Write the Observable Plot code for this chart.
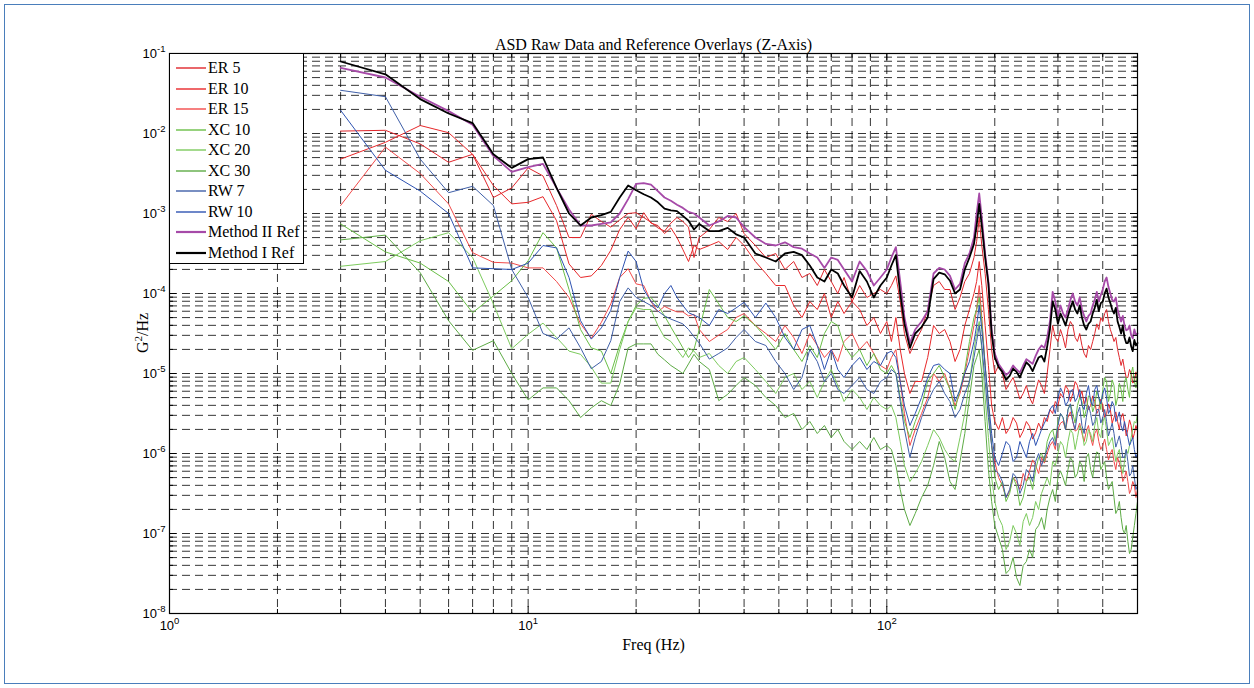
<!DOCTYPE html>
<html><head><meta charset="utf-8">
<script src="https://cdn.jsdelivr.net/npm/d3@7"></script>
<script src="https://cdn.jsdelivr.net/npm/@observablehq/plot@0.6"></script>
<style>
body{margin:0;background:#fff;}
#wrap{position:relative;width:1254px;height:688px;overflow:hidden;background:#fff;}
#chart{position:absolute;left:0;top:0;}
#frame{position:absolute;left:4px;top:4px;width:1244px;height:678px;border:1px solid #4a7ebb;pointer-events:none;}
#legend{position:absolute;left:169px;top:53px;width:135px;height:211px;background:#fff;border:1px solid #000;box-sizing:border-box;font-family:"Liberation Serif",serif;font-size:16px;color:#000;}
#legend .item{position:absolute;left:0;width:100%;height:20px;line-height:20px;white-space:nowrap;}
#legend svg{position:absolute;left:6px;top:8px;}
#legend span{position:absolute;left:38px;top:0;}
#ylab{position:absolute;left:143px;top:333px;transform:translate(-50%,-50%) rotate(-90deg);font-family:"Liberation Serif",serif;font-size:16px;white-space:nowrap;color:#000;}
#ylab sup{font-size:11px;vertical-align:0;position:relative;top:-6px;}
</style></head>
<body>
<div id="wrap"><div id="chart"></div><div id="legend"></div><div id="ylab"></div><div id="frame"></div></div>
<script>
// ---- data: log10 of ASD values (G^2/Hz) ----
const freq = [3,4,5,6,7,8,9,10,11,12,13,14,15,16,17,18,19,20,21,22,23,24,25,26,27,28,29,30,
  32,34,36,38,40, 43,46,49,52,55,58, 61,64,67,70,73,76, 80,84,88,92,96,100,
  103,106,109,112,116,120, 125,130,135,140,145,150,155,160,165,170,175,
  178,181,184,188,192,196,200,
  205,210,215,220,225,230,235,240,245,250,255,260,265,270,275,280,285,290,295,300,
  305,310,315,320,325,330,335,340,345,350,355,360,365,370,375,380,385,390,395,400,
  405,410,415,420,425,430,435,440,445,450,455,460,465,470,475,480,485,490,495,500];

const er5Log = [-1.97,-1.96,-2.13,-2.36,-2.26,-2.80,-2.68,-2.43,-2.53,-2.90,-3.30,-3.30,-3.01,-3.10,-3.17,-3.08,-3.00,-2.99,-3.05,-3.11,-3.18,-3.22,-3.12,-3.05,-3.10,-3.17,-3.55,-3.30,
  -3.20,-3.05,-3.10,-3.00,-3.25, -3.40,-3.55,-3.50,-3.70,-3.60,-3.80, -3.75,-3.90,-3.70,-3.85,-4.00,-3.80, -4.10,-3.90,-4.05,-4.00,-3.95,-4.00,
  -3.90,-3.78,-4.10,-4.50,-4.75,-4.60, -4.45,-4.20,-3.90,-3.85,-3.95,-3.95,-4.20,-4.05,-3.85,-3.75,-3.55,
  -3.35,-3.05,-3.40,-3.75,-4.20,-4.70,-5.00,
  -4.90,-5.00,-5.20,-5.12,-5.05,-5.18,-5.32,-5.25,-5.15,-5.30,-5.38,-5.22,-5.08,-5.15,-5.25,-5.00,-4.70,-4.40,-4.55,-4.60,
  -4.45,-4.55,-4.68,-4.45,-4.35,-4.40,-4.55,-4.60,-4.50,-4.65,-4.75,-4.80,-4.65,-4.70,-4.60,-4.50,-4.38,-4.45,-4.30,-4.35,
  -4.25,-4.20,-4.35,-4.45,-4.52,-4.60,-4.55,-4.70,-4.80,-4.90,-4.82,-4.95,-5.05,-5.05,-4.95,-5.00,-5.12,-5.10,-4.98,-5.05];

const er10Log = [-2.32,-2.11,-1.90,-1.99,-2.26,-2.65,-2.88,-2.86,-2.79,-3.09,-3.63,-3.80,-3.78,-3.65,-3.46,-3.20,-3.05,-3.19,-2.99,-3.12,-3.15,-3.25,-3.18,-3.30,-3.45,-3.60,-3.40,-3.45,
  -3.40,-3.35,-3.45,-3.30,-3.40, -3.60,-3.75,-3.90,-3.90,-4.15,-4.30, -4.10,-4.20,-4.00,-4.30,-4.10,-4.25, -4.10,-4.20,-4.40,-4.30,-4.50,-4.35,
  -4.60,-4.30,-4.70,-5.00,-5.25,-5.10, -5.10,-4.80,-4.40,-4.50,-4.45,-4.60,-4.85,-4.70,-4.40,-4.20,-4.00,
  -3.85,-3.60,-3.90,-4.40,-4.90,-5.40,-5.60,
  -5.70,-5.55,-5.75,-5.68,-5.55,-5.62,-5.80,-5.72,-5.60,-5.66,-5.82,-5.74,-5.62,-5.70,-5.55,-5.60,-5.45,-5.50,-5.35,-5.40,
  -5.25,-5.30,-5.15,-5.20,-5.35,-5.25,-5.10,-5.15,-5.30,-5.22,-5.38,-5.30,-5.45,-5.40,-5.28,-5.35,-5.50,-5.45,-5.32,-5.40,
  -5.55,-5.50,-5.38,-5.45,-5.62,-5.55,-5.48,-5.60,-5.70,-5.55,-5.50,-5.62,-5.78,-5.70,-5.58,-5.65,-5.82,-5.75,-5.65,-5.72];

const er15Log = [-2.90,-2.17,-2.50,-2.88,-3.49,-3.61,-3.62,-3.68,-3.68,-3.85,-4.05,-4.38,-4.56,-4.36,-4.13,-3.80,-3.69,-3.88,-3.90,-4.10,-4.23,-4.16,-4.20,-4.23,-4.23,-4.28,-4.26,-4.45,
  -4.60,-4.52,-4.45,-4.30,-4.25, -4.40,-4.50,-4.60,-4.40,-4.55,-4.75, -4.50,-4.65,-4.80,-4.70,-4.85,-4.60, -4.50,-4.70,-4.60,-4.75,-4.90,-4.95,
  -4.80,-4.70,-5.10,-5.50,-5.90,-5.70, -5.50,-5.30,-5.00,-5.10,-5.00,-5.20,-5.40,-5.25,-5.00,-4.70,-4.40,
  -4.20,-3.90,-4.30,-4.90,-5.40,-5.90,-6.10,
  -6.30,-6.40,-6.55,-6.47,-6.30,-6.35,-6.45,-6.25,-6.35,-6.22,-6.08,-6.15,-6.25,-6.05,-6.12,-6.00,-5.90,-5.85,-5.95,-5.70,
  -5.62,-5.60,-5.70,-5.55,-5.48,-5.60,-5.72,-5.70,-5.62,-5.75,-5.85,-5.72,-5.65,-5.80,-5.90,-5.75,-5.70,-5.85,-5.95,-5.90,
  -5.82,-5.95,-6.08,-6.00,-5.95,-6.10,-6.20,-6.05,-6.12,-6.20,-6.35,-6.30,-6.22,-6.35,-6.50,-6.45,-6.35,-6.40,-6.55,-6.45];

const xc10Log = [-3.13,-3.48,-3.62,-3.85,-4.24,-4.03,-3.84,-3.59,-3.24,-3.43,-3.95,-4.45,-4.68,-4.72,-5.00,-4.64,-4.35,-4.15,-4.06,-4.05,-4.15,-4.28,-4.42,-4.55,-4.68,-4.80,-4.70,-4.45,
  -3.95,-4.13,-4.30,-4.35,-4.28, -4.40,-4.55,-4.70,-4.50,-4.70,-4.85, -4.65,-4.80,-4.50,-4.35,-4.40,-4.65, -4.80,-4.70,-4.90,-4.75,-4.95,-5.00,
  -4.90,-5.00,-5.30,-5.60,-5.80,-5.60, -5.40,-5.10,-5.00,-4.90,-5.05,-5.20,-5.45,-5.20,-4.95,-4.60,-4.30,
  -4.20,-4.05,-4.35,-4.90,-5.40,-5.90,-6.30,
  -6.45,-6.35,-6.60,-6.50,-6.30,-6.40,-6.65,-6.55,-6.35,-6.30,-6.45,-6.20,-6.05,-6.00,-6.10,-5.85,-5.75,-5.70,-5.85,-5.60,
  -5.50,-5.55,-5.70,-5.45,-5.38,-5.50,-5.62,-5.40,-5.30,-5.35,-5.55,-5.45,-5.28,-5.30,-5.48,-5.40,-5.22,-5.30,-5.45,-5.20,
  -5.05,-5.10,-5.35,-5.25,-5.08,-5.15,-5.40,-5.30,-5.12,-5.20,-5.35,-5.10,-5.05,-5.20,-5.30,-5.00,-4.92,-5.10,-5.18,-4.95];

const xc20Log = [-3.66,-3.60,-3.34,-3.24,-3.55,-4.13,-4.69,-4.51,-4.37,-4.55,-4.72,-4.76,-4.92,-5.12,-5.12,-4.70,-4.35,-4.18,-4.20,-4.20,-4.40,-4.55,-4.60,-4.70,-4.80,-4.68,-4.72,-4.80,
  -4.75,-4.90,-5.00,-4.85,-4.80, -4.95,-5.10,-5.25,-5.05,-5.00,-5.20, -5.10,-5.30,-5.10,-4.95,-5.15,-5.35, -5.20,-5.30,-5.45,-5.30,-5.40,-5.45,
  -5.40,-5.55,-5.85,-6.15,-6.35,-6.25, -6.10,-5.90,-5.70,-5.80,-5.95,-6.05,-6.10,-5.80,-5.50,-5.10,-4.70,
  -4.50,-4.35,-4.70,-5.30,-5.80,-6.30,-6.60,
  -6.80,-6.90,-7.20,-7.10,-6.90,-7.00,-7.15,-6.85,-6.75,-6.90,-6.80,-6.60,-6.70,-6.50,-6.40,-6.30,-6.40,-6.10,-6.15,-6.00,
  -5.85,-5.90,-6.05,-5.85,-5.70,-5.75,-5.95,-5.80,-5.65,-5.70,-5.90,-5.85,-5.70,-5.75,-5.85,-5.65,-5.55,-5.75,-5.80,-5.60,
  -5.55,-5.70,-5.90,-5.85,-5.80,-5.95,-6.10,-6.00,-5.95,-6.15,-6.25,-6.10,-5.95,-6.00,-5.90,-5.80,-5.70,-5.60,-5.62,-5.50];

const xc30Log = [-3.33,-3.27,-3.74,-4.34,-4.71,-4.59,-5.00,-5.33,-5.18,-5.18,-5.34,-5.55,-5.43,-5.34,-5.40,-5.13,-4.68,-4.63,-4.63,-4.63,-4.76,-4.83,-4.90,-4.95,-5.00,-4.88,-4.76,-4.85,
  -4.95,-5.34,-5.26,-5.15,-5.05, -5.15,-5.30,-5.40,-5.55,-5.50,-5.70, -5.60,-5.75,-5.65,-5.80,-5.70,-5.85, -5.95,-5.85,-5.95,-5.80,-5.95,-5.90,
  -5.95,-6.15,-6.45,-6.70,-6.90,-6.75, -6.55,-6.40,-6.15,-5.85,-6.05,-6.35,-6.45,-6.10,-5.75,-5.30,-4.90,
  -4.80,-4.70,-5.00,-5.60,-6.20,-6.60,-6.90,
  -7.05,-7.20,-7.50,-7.45,-7.30,-7.55,-7.65,-7.40,-7.35,-7.20,-7.30,-6.95,-6.90,-6.80,-6.95,-6.70,-6.55,-6.45,-6.60,-6.30,
  -6.22,-6.30,-6.40,-6.20,-6.05,-6.10,-6.30,-6.25,-6.10,-6.15,-6.35,-6.05,-6.00,-6.20,-6.30,-6.10,-5.98,-6.00,-6.20,-6.15,
  -6.10,-6.30,-6.45,-6.40,-6.35,-6.55,-6.75,-6.70,-6.60,-6.80,-6.95,-7.00,-6.90,-7.10,-7.25,-7.20,-7.05,-6.90,-6.75,-6.60];

const rw7Log = [-1.46,-1.54,-2.32,-2.74,-2.66,-2.90,-3.70,-4.05,-4.50,-4.57,-4.43,-4.68,-4.94,-4.85,-4.59,-4.10,-3.93,-4.05,-4.10,-4.15,-4.22,-4.28,-4.32,-4.35,-4.38,-4.45,-4.54,-4.62,
  -4.82,-4.75,-4.68,-4.55,-4.45, -4.60,-4.65,-4.85,-5.00,-5.20,-5.05, -4.70,-4.85,-5.10,-5.00,-5.20,-5.25, -5.15,-5.05,-5.20,-5.25,-5.10,-5.05,
  -4.95,-5.00,-5.35,-5.70,-6.05,-5.80, -5.55,-5.35,-5.20,-5.10,-5.25,-5.35,-5.55,-5.45,-5.25,-5.10,-4.80,
  -4.60,-4.40,-4.65,-5.10,-5.55,-5.90,-6.20,
  -6.25,-6.35,-6.55,-6.45,-6.25,-6.30,-6.50,-6.40,-6.20,-6.25,-6.35,-6.10,-6.00,-6.15,-6.05,-5.95,-5.85,-5.80,-5.90,-5.65,
  -5.50,-5.55,-5.70,-5.45,-5.38,-5.60,-5.70,-5.50,-5.42,-5.65,-5.75,-5.55,-5.40,-5.50,-5.65,-5.60,-5.45,-5.45,-5.62,-5.55,
  -5.45,-5.60,-5.78,-5.70,-5.62,-5.75,-5.92,-5.85,-5.78,-5.90,-6.05,-6.05,-5.95,-6.10,-6.28,-6.25,-6.15,-6.30,-6.45,-6.40];

const rw10Log = [-1.71,-2.46,-2.72,-3.00,-3.68,-3.69,-3.70,-3.62,-3.40,-3.43,-3.80,-4.34,-4.57,-4.43,-4.21,-3.80,-3.47,-3.60,-3.95,-4.10,-4.18,-4.00,-3.90,-4.05,-4.15,-4.24,-4.27,-4.30,
  -4.40,-4.20,-4.25,-4.18,-4.11, -4.30,-4.12,-4.30,-4.55,-4.70,-4.45, -4.40,-4.65,-4.95,-4.70,-4.95,-5.05, -4.90,-4.80,-4.95,-4.85,-4.90,-4.75,
  -4.72,-4.80,-5.10,-5.40,-5.65,-5.50, -5.30,-5.05,-4.90,-4.88,-4.95,-5.00,-5.35,-5.20,-5.00,-4.85,-4.60,
  -4.40,-4.15,-4.45,-4.90,-5.35,-5.75,-6.05,
  -6.15,-6.00,-5.85,-5.90,-6.10,-6.05,-5.85,-5.95,-6.05,-5.85,-5.75,-5.90,-5.80,-5.70,-5.62,-5.55,-5.45,-5.40,-5.50,-5.30,
  -5.18,-5.25,-5.40,-5.35,-5.22,-5.20,-5.35,-5.30,-5.20,-5.40,-5.45,-5.25,-5.15,-5.35,-5.40,-5.20,-5.15,-5.30,-5.38,-5.25,
  -5.18,-5.30,-5.50,-5.45,-5.35,-5.40,-5.60,-5.55,-5.48,-5.65,-5.72,-5.60,-5.70,-5.80,-5.90,-5.85,-5.80,-5.95,-6.05,-6.00];

const method2Log = [-1.18,-1.30,-1.54,-1.72,-1.89,-2.28,-2.48,-2.42,-2.38,-2.68,-2.95,-3.15,-3.15,-3.13,-3.11,-3.00,-2.82,-2.63,-2.62,-2.64,-2.72,-2.80,-2.84,-2.89,-2.93,-2.98,-3.00,-3.05,
  -3.15,-3.10,-3.03,-3.05,-3.17, -3.30,-3.38,-3.40,-3.36,-3.42,-3.44, -3.50,-3.55,-3.68,-3.55,-3.58,-3.70, -3.85,-3.60,-3.72,-3.90,-3.80,-3.70,
  -3.55,-3.42,-3.85,-4.30,-4.62,-4.45, -4.35,-4.22,-3.75,-3.68,-3.70,-3.78,-3.95,-3.88,-3.62,-3.50,-3.30,
  -3.00,-2.75,-3.05,-3.50,-3.85,-4.45,-4.75,
  -4.88,-4.95,-5.02,-4.98,-4.90,-4.95,-4.99,-4.90,-4.82,-4.85,-4.88,-4.78,-4.70,-4.65,-4.68,-4.55,-4.35,-3.98,-4.10,-4.28,
  -4.15,-4.25,-4.30,-4.20,-4.08,-4.00,-4.10,-4.15,-4.05,-4.20,-4.28,-4.35,-4.28,-4.25,-4.15,-4.08,-3.98,-4.10,-4.02,-3.95,
  -3.85,-3.80,-3.92,-4.00,-4.08,-4.10,-4.05,-4.20,-4.28,-4.35,-4.28,-4.40,-4.46,-4.45,-4.40,-4.52,-4.56,-4.45,-4.52,-4.50];

const method1Log = [-1.10,-1.26,-1.57,-1.75,-1.87,-2.26,-2.43,-2.32,-2.30,-2.68,-3.00,-3.15,-3.05,-3.02,-2.98,-2.80,-2.65,-2.71,-2.76,-2.80,-2.86,-2.94,-2.96,-2.97,-3.03,-3.09,-3.20,-3.13,
  -3.22,-3.22,-3.18,-3.26,-3.30, -3.50,-3.55,-3.60,-3.50,-3.48,-3.52, -3.65,-3.80,-3.85,-3.70,-3.75,-3.90, -4.05,-3.72,-3.85,-4.05,-3.90,-3.80,
  -3.65,-3.52,-4.00,-4.38,-4.68,-4.50, -4.42,-4.30,-3.82,-3.74,-3.76,-3.84,-4.00,-3.95,-3.70,-3.55,-3.38,
  -3.15,-2.88,-3.15,-3.55,-3.88,-4.50,-4.80,
  -4.92,-4.98,-5.08,-5.03,-4.94,-4.98,-5.05,-4.95,-4.86,-4.90,-4.97,-4.88,-4.80,-4.78,-4.85,-4.66,-4.45,-4.10,-4.20,-4.38,
  -4.25,-4.32,-4.40,-4.28,-4.18,-4.10,-4.20,-4.25,-4.15,-4.30,-4.40,-4.45,-4.38,-4.35,-4.25,-4.18,-4.08,-4.22,-4.12,-4.10,
  -4.00,-3.94,-4.05,-4.12,-4.20,-4.25,-4.18,-4.35,-4.42,-4.50,-4.40,-4.55,-4.62,-4.62,-4.55,-4.66,-4.72,-4.58,-4.65,-4.62];

const seriesNames = ["ER 5","ER 10","ER 15","XC 10","XC 20","XC 30","RW 7","RW 10","Method II Ref","Method I Ref"];
const seriesLogs = [er5Log, er10Log, er15Log, xc10Log, xc20Log, xc30Log, rw7Log, rw10Log, method2Log, method1Log];

const titleText = "ASD Raw Data and Reference Overlays (Z-Axis)";
const xLabelText = "Freq (Hz)";
const yLabelBase = "G", yLabelSup = "2", yLabelRest = "/Hz";
const xDecades = [1, 10, 100];
const yDecades = [1e-8, 1e-7, 1e-6, 1e-5, 1e-4, 1e-3, 1e-2, 1e-1];

// ---- styles ----
const seriesColors = ["#e0262c","#e8282a","#f24a4a","#6abf47","#7dcb5e","#5dab45","#3f5fa8","#2e53b2","#a64aa8","#000000"];
const seriesWidths = [1,1,1,1,1,1,1,1,1.8,1.8];

seriesLogs.forEach((a,i)=>{ if(a.length!==freq.length) throw new Error(seriesNames[i]+" length "+a.length+" vs "+freq.length); });

const xMax = 500;
const xMinor = [];
xDecades.forEach(d => { for (let k = 2; k <= 9; k++) if (d*k <= xMax) xMinor.push(d*k); });
const xGrid = xDecades.filter(d => d > 1).concat(xMinor).filter(v => v < xMax);
const yMinor = [];
yDecades.slice(0,-1).forEach(d => { for (let k = 2; k <= 9; k++) yMinor.push(d*k); });
const yGrid = yDecades.slice(1,-1).concat(yMinor);

const rowsFor = i => freq.map((f,j) => ({f, v: Math.pow(10, seriesLogs[i][j])}));

const W = 1254, H = 688, mL = 169, mR = 117, mT = 53, mB = 75;
const fw = W - mL - mR, fh = H - mT - mB;
const serif = "Liberation Serif", sans = "Liberation Sans";
const expFmt = d => `10^{${Math.round(Math.log10(d))}}`;

const gridStyle = {stroke:"#000", strokeWidth:0.8, strokeDasharray:"8,5"};

const marks = [
  Plot.ruleX(xGrid, {x: d=>d, ...gridStyle}),
  Plot.ruleY(yGrid, {y: d=>d, ...gridStyle}),
];
seriesLogs.forEach((_, i) => {
  marks.push(Plot.line(rowsFor(i), {x:"f", y:"v", stroke: seriesColors[i], strokeWidth: seriesWidths[i], strokeLinejoin:"round"}));
});
marks.push(
  Plot.tickX(xDecades, {x:d=>d, insetTop: fh-7, stroke:"#000"}),
  Plot.tickX(xDecades, {x:d=>d, insetBottom: fh-7, stroke:"#000"}),
  Plot.tickX(xMinor, {x:d=>d, insetTop: fh-4, stroke:"#000"}),
  Plot.tickX(xMinor, {x:d=>d, insetBottom: fh-4, stroke:"#000"}),
  Plot.tickY(yDecades, {y:d=>d, insetRight: fw-7, stroke:"#000"}),
  Plot.tickY(yDecades, {y:d=>d, insetLeft: fw-7, stroke:"#000"}),
  Plot.tickY(yMinor, {y:d=>d, insetRight: fw-4, stroke:"#000"}),
  Plot.tickY(yMinor, {y:d=>d, insetLeft: fw-4, stroke:"#000"}),
  Plot.frame({stroke:"#000", strokeWidth:1.2}),
  Plot.text(xDecades, {x:d=>d, frameAnchor:"bottom", dy:16, text: expFmt, fontFamily: sans, fontSize:13, fill:"#000"}),
  Plot.text(yDecades, {y:d=>d, frameAnchor:"left", dx:-4, textAnchor:"end", text: expFmt, fontFamily: sans, fontSize:13, fill:"#000"}),
  Plot.text([titleText], {frameAnchor:"top", dy:-15, fontFamily: serif, fontSize:16, fill:"#000"}),
  Plot.text([xLabelText], {frameAnchor:"bottom", dy:36, fontFamily: serif, fontSize:16, fill:"#000"})
);

const chart = Plot.plot({
  width: W, height: H,
  marginLeft: mL, marginRight: mR, marginTop: mT, marginBottom: mB,
  x: {type:"log", domain:[1, xMax], axis:null},
  y: {type:"log", domain:[1e-8, 1e-1], axis:null},
  style: {background:"#fff", overflow:"visible"},
  marks
});
document.getElementById("chart").appendChild(chart);

// superscripts in tick labels
const NS = "http://www.w3.org/2000/svg";
chart.querySelectorAll("text").forEach(el => {
  const s = el.textContent;
  const m = s.match(/^(.*)\^\{(.*?)\}(.*)$/);
  if (!m) return;
  const big = 13;
  while (el.firstChild) el.removeChild(el.firstChild);
  const a = document.createElementNS(NS, "tspan"); a.textContent = m[1]; el.appendChild(a);
  const b = document.createElementNS(NS, "tspan"); b.textContent = m[2];
  b.setAttribute("dy", String(-0.45*big)); b.setAttribute("font-size", "9.5"); el.appendChild(b);
});

// y label
document.getElementById("ylab").innerHTML = `${yLabelBase}<sup>${yLabelSup}</sup>${yLabelRest}`;

// legend
const lg = document.getElementById("legend");
seriesNames.forEach((name, i) => {
  const it = document.createElement("div");
  it.className = "item";
  it.style.top = Math.round(4 + i*20.5) + "px";
  const w = seriesWidths[i] > 1 ? 2.2 : 1.4;
  it.innerHTML = `<svg width="30" height="4"><line x1="0" x2="30" y1="2" y2="2" stroke="${seriesColors[i]}" stroke-width="${w}"/></svg><span>${name}</span>`;
  lg.appendChild(it);
});
</script>
</body></html>
